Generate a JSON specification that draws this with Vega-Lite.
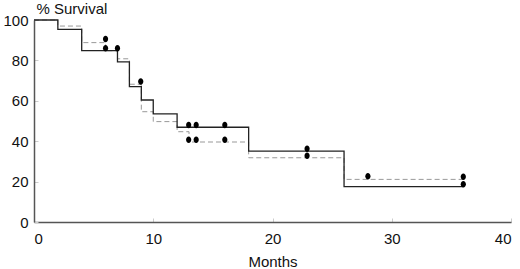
{
  "$schema": "https://vega.github.io/schema/vega-lite/v6.json",
  "width": 477,
  "height": 202,
  "autosize": "none",
  "padding": {"left": 34, "top": 20, "right": 9, "bottom": 47},
  "background": "white",
  "config": {
    "view": {"stroke": null},
    "font": "Liberation Sans",
    "axis": {
      "grid": false,
      "domainColor": "#555555",
      "domainWidth": 1.5,
      "tickColor": "#cccccc",
      "tickSize": -4,
      "labelFont": "Liberation Sans",
      "labelFontSize": 15,
      "labelColor": "#111111",
      "titleFont": "Liberation Sans",
      "titleFontSize": 15,
      "titleFontWeight": "normal",
      "titleColor": "#111111"
    }
  },
  "datasets": {
    "curves": [
      {"month": 0, "survival": 100, "group": "A"},
      {"month": 2, "survival": 95.4, "group": "A"},
      {"month": 4, "survival": 84.8, "group": "A"},
      {"month": 7, "survival": 79.3, "group": "A"},
      {"month": 8, "survival": 67, "group": "A"},
      {"month": 9, "survival": 60.4, "group": "A"},
      {"month": 10, "survival": 53.5, "group": "A"},
      {"month": 12, "survival": 46.9, "group": "A"},
      {"month": 18, "survival": 35.1, "group": "A"},
      {"month": 26, "survival": 17.5, "group": "A"},
      {"month": 36, "survival": 17.5, "group": "A"},
      {"month": 0, "survival": 100, "group": "B"},
      {"month": 2, "survival": 97, "group": "B"},
      {"month": 4, "survival": 88.8, "group": "B"},
      {"month": 6, "survival": 84.8, "group": "B"},
      {"month": 7, "survival": 80.8, "group": "B"},
      {"month": 8, "survival": 68.2, "group": "B"},
      {"month": 9, "survival": 54.6, "group": "B"},
      {"month": 10, "survival": 49.7, "group": "B"},
      {"month": 12, "survival": 44.7, "group": "B"},
      {"month": 13, "survival": 39.6, "group": "B"},
      {"month": 18, "survival": 31.8, "group": "B"},
      {"month": 26, "survival": 21.1, "group": "B"},
      {"month": 36, "survival": 21.1, "group": "B"}
    ],
    "censored": [
      {"month": 6, "survival": 90.6},
      {"month": 6, "survival": 86},
      {"month": 7, "survival": 86},
      {"month": 8.95, "survival": 69.5},
      {"month": 12.97, "survival": 48},
      {"month": 13.6, "survival": 48},
      {"month": 12.97, "survival": 40.7},
      {"month": 13.6, "survival": 40.7},
      {"month": 16, "survival": 48},
      {"month": 16, "survival": 40.7},
      {"month": 22.9, "survival": 36.3},
      {"month": 22.9, "survival": 32.8},
      {"month": 28, "survival": 22.6},
      {"month": 36, "survival": 22.4},
      {"month": 36, "survival": 18.7}
    ]
  },
  "layer": [
    {
      "data": {"name": "curves"},
      "transform": [{"filter": "datum.group === 'B'"}],
      "mark": {"type": "line", "interpolate": "step-after", "color": "#999999", "strokeWidth": 1, "strokeDash": [5, 3]},
      "encoding": {
        "x": {"field": "month", "type": "quantitative", "scale": {"domain": [0, 40], "nice": false},
              "axis": {"values": [0, 10, 20, 30, 40], "title": "Months", "labelPadding": 13, "titlePadding": 8}},
        "y": {"field": "survival", "type": "quantitative", "scale": {"domain": [0, 100], "nice": false},
              "axis": {"values": [0, 20, 40, 60, 80, 100], "title": "% Survival", "titleAngle": 0, "titleAlign": "left",
                       "titleBaseline": "alphabetic", "titleX": 2, "titleY": -7, "labelPadding": 10}}
      }
    },
    {
      "data": {"name": "curves"},
      "transform": [{"filter": "datum.group === 'A'"}],
      "mark": {"type": "line", "interpolate": "step-after", "color": "#222222", "strokeWidth": 1.3},
      "encoding": {
        "x": {"field": "month", "type": "quantitative"},
        "y": {"field": "survival", "type": "quantitative"}
      }
    },
    {
      "data": {"name": "censored"},
      "mark": {"type": "point", "shape": "M-0.8,0A0.8,1,0,1,0,0.8,0A0.8,1,0,1,0,-0.8,0Z", "filled": true, "color": "#000000", "size": 42, "opacity": 1},
      "encoding": {
        "x": {"field": "month", "type": "quantitative"},
        "y": {"field": "survival", "type": "quantitative"}
      }
    }
  ]
}
